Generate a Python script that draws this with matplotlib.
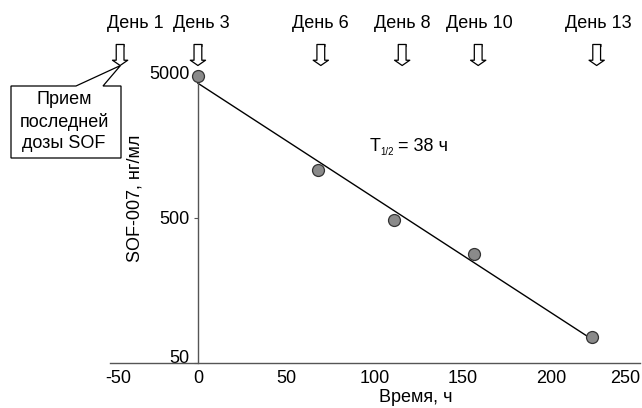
import matplotlib
matplotlib.use("Agg")
import matplotlib.pyplot as plt
import matplotlib.transforms as mtransforms
from matplotlib.patches import Polygon
from matplotlib.ticker import NullLocator

plt.rcParams['font.family'] = ['Liberation Sans', 'DejaVu Sans']
plt.rcParams['font.size'] = 13

# measured concentrations
time_h = [0, 68, 111, 156, 223]
conc = [4770, 1060, 482, 281, 75]

# fitted elimination line (end points)
fit_t = [0, 224]
fit_c = [4230, 71]

# dosing days and the hour each arrow marks
day_labels = ["День 1", "День 3", "День 6", "День 8", "День 10", "День 13"]
day_hours = [-44, 0, 69.5, 115.5, 158.5, 225.5]
label_shift = [15, 3, 0, 0, 1, 2]   # px, label nudges

x_ticks = [-50, 0, 50, 100, 150, 200, 250]
y_ticks = [50, 500, 5000]

W, H = 642, 408
fig = plt.figure(figsize=(W / 100, H / 100), dpi=100)
ax = fig.add_axes([109.5 / W, 45.3 / H, 530.5 / W, 290 / H])

ax.set_yscale('log')
ax.set_xlim(-50, 250)
ax.set_ylim(50, 5000)

ax.plot(fit_t, fit_c, color='black', lw=1.0, zorder=2)
ax.plot(time_h, conc, 'o', ms=8.6, mfc='#8a8a8a', mec='#333333', mew=0.9,
        zorder=3, clip_on=False)

for s in ['top', 'right']:
    ax.spines[s].set_visible(False)
ax.spines['left'].set_position(('data', 0))
ax.spines['left'].set_color('#555555')
ax.spines['bottom'].set_color('#555555')
ax.spines['left'].set_linewidth(1.0)
ax.spines['bottom'].set_linewidth(1.0)

ax.set_xticks(x_ticks)
ax.set_xticklabels([str(v) for v in x_ticks])
ax.set_yticks(y_ticks)
ax.set_yticklabels([str(v) for v in y_ticks])
ax.yaxis.set_minor_locator(NullLocator())
ax.tick_params(axis='x', length=0, pad=5)
ax.tick_params(axis='y', length=3, width=0.8, color='#555555', pad=3)

xt = ax.xaxis.get_major_ticks()
xt[0].label1.set_horizontalalignment('left')
xt[0].label1.set_transform(xt[0].label1.get_transform() +
                           mtransforms.ScaledTranslation(-4 / 100, 0, fig.dpi_scale_trans))
xt[-1].label1.set_horizontalalignment('right')
ax.yaxis.get_major_ticks()[0].label1.set_verticalalignment('baseline')

ax.set_xlabel("Время, ч")
ax.xaxis.label.set_verticalalignment('center')
ax.xaxis.set_label_coords((416 - 109.5) / 530.5, (362.7 - 398) / 290)
ax.set_ylabel("SOF-007, нг/мл")
ax.yaxis.label.set_verticalalignment('center')
ax.yaxis.set_label_coords((135 - 109.5) / 530.5, (362.7 - 198) / 290)

# half-life note
ax.annotate("T", xy=(97, 1540), ha='left', va='center')
ax.annotate("1/2", xy=(97, 1540), xytext=(8.0, -3.5), textcoords='offset points',
            ha='left', va='center', fontsize=7)
ax.annotate("= 38 ч", xy=(97, 1540), xytext=(20.5, 0), textcoords='offset points',
            ha='left', va='center')

# dose arrows along the top
top = mtransforms.blended_transform_factory(ax.transData, fig.transFigure)
for lab, hr, sh in zip(day_labels, day_hours, label_shift):
    ax.annotate('', xy=(hr, 1 - 65.5 / H), xycoords=top,
                xytext=(hr, 1 - 44.5 / H), textcoords=top,
                arrowprops=dict(arrowstyle='simple,head_length=0.38,head_width=1.1,tail_width=0.56',
                                fc='white', ec='black', lw=0.9, shrinkA=0, shrinkB=0,
                                mutation_scale=10),
                annotation_clip=False)
    ax.plot([hr], [1 - 44.8 / H], marker='_', ms=5.6, mew=2.2, color='black',
            transform=top, clip_on=False)
    ax.annotate(lab, xy=(hr, 1 - 24 / H), xycoords=top,
                xytext=(sh * 0.72, 0), textcoords='offset points',
                ha='center', va='center', annotation_clip=False)

# callout box for the last dose
pts = [(11, 86), (76, 86), (120.5, 65.5), (103, 86), (121, 86), (121, 158), (11, 158)]
callout = Polygon([(x / W, 1 - y / H) for x, y in pts], closed=True,
                  transform=fig.transFigure, fc='white', ec='black', lw=0.9)
fig.add_artist(callout)
for txt, yy in zip(["Прием", "последней", "дозы SOF"], [100, 121.7, 143.3]):
    fig.text(64 / W, 1 - yy / H, txt, ha='center', va='center')

fig.savefig("out.png", dpi=100)
